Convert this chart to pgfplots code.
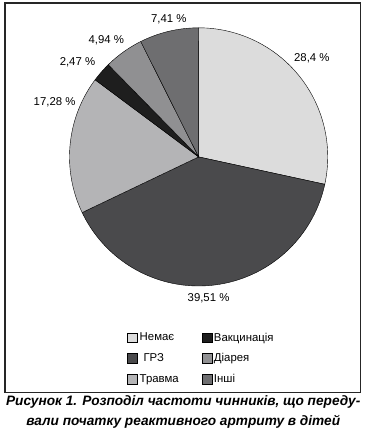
\documentclass[border=0pt]{standalone}
\usepackage{pgfplots}
\pgfplotsset{compat=1.18}
\usepackage{fontspec}
\setmainfont{Liberation Sans}
\definecolor{cNem}{HTML}{DCDCDC}
\definecolor{cGrz}{HTML}{4A4A4C}
\definecolor{cTr}{HTML}{B4B4B6}
\definecolor{cVak}{HTML}{1E1E1E}
\definecolor{cDia}{HTML}{909092}
\definecolor{cIn}{HTML}{6E6E70}
% shares, %
\def\vA{28.4}\def\vB{39.51}\def\vC{17.28}\def\vD{2.47}\def\vE{4.94}\def\vF{7.41}
\pgfmathsetmacro\aA{90}
\pgfmathsetmacro\aB{\aA-3.6*\vA}
\pgfmathsetmacro\aC{\aB-3.6*\vB}
\pgfmathsetmacro\aD{\aC-3.6*\vC}
\pgfmathsetmacro\aE{\aD-3.6*\vD}
\pgfmathsetmacro\aF{\aE-3.6*\vE}
\pgfmathsetmacro\aG{\aF-3.6*\vF}
\begin{document}
\begin{tikzpicture}
\begin{axis}[
  x=1bp, y=1bp,
  xmin=-195, xmax=163, ymin=-237, ymax=155,
  hide axis,
  clip=false,
  samples=90,
  legend columns=3, transpose legend,
  legend cell align=left,
  legend image code/.code={\draw[#1,draw=black,line width=0.5bp] (0bp,-5bp) rectangle (10bp,5bp);},
  legend style={draw=none, fill=none, font=\fontsize{11.5}{13}\selectfont,
    at={(axis cs:-75,-173)}, anchor=north west,
    row sep=7bp,
    /tikz/every even column/.append style={column sep=21bp}},
]
\addplot[fill=cNem, draw=black, line width=0.4bp, domain=\aB:\aA] ({130*cos(x)},{130*sin(x)}) -- (axis cs:0,0) -- cycle;
\addlegendentry{Немає}
\addplot[fill=cGrz, draw=black, line width=0.4bp, domain=\aC:\aB] ({130*cos(x)},{130*sin(x)}) -- (axis cs:0,0) -- cycle;
\addlegendentry{\,\,ГРЗ}
\addplot[fill=cTr, draw=black, line width=0.4bp, domain=\aD:\aC] ({130*cos(x)},{130*sin(x)}) -- (axis cs:0,0) -- cycle;
\addlegendentry{Травма}
\addplot[fill=cVak, draw=black, line width=0.4bp, domain=\aE:\aD, samples=10] ({130*cos(x)},{130*sin(x)}) -- (axis cs:0,0) -- cycle;
\addlegendentry{Вакцинація}
\addplot[fill=cDia, draw=black, line width=0.4bp, domain=\aF:\aE, samples=20] ({130*cos(x)},{130*sin(x)}) -- (axis cs:0,0) -- cycle;
\addlegendentry{Діарея}
\addplot[fill=cIn, draw=black, line width=0.4bp, domain=\aG:\aF, samples=30] ({130*cos(x)},{130*sin(x)}) -- (axis cs:0,0) -- cycle;
\addlegendentry{Інші}
\draw[line width=1.3bp, black!85] (axis cs:-195,-237) rectangle (axis cs:163,155);
\begin{scope}[font=\fontsize{11.5}{13}\selectfont]
\node at (axis cs:114,99) {28,4 \%};
\node at (axis cs:10,-142) {39,51 \%};
\node at (axis cs:-145,55) {17,28 \%};
\node at (axis cs:-122,95) {2,47 \%};
\node at (axis cs:-93,117) {4,94 \%};
\node at (axis cs:-30,139) {7,41 \%};
\end{scope}
\node[align=center, anchor=north, inner sep=0pt,
  font=\fontsize{13.8}{20}\selectfont\bfseries\itshape]
  at (axis cs:-15.5,-240) {Рисунок 1. Розподіл частоти чинників, що переду-\\вали початку реактивного артриту в дітей};
\coordinate (bbSW) at (axis cs:-200,-277);
\coordinate (bbNE) at (axis cs:169,158);
\end{axis}
\useasboundingbox (bbSW) rectangle (bbNE);
\end{tikzpicture}
\end{document}
